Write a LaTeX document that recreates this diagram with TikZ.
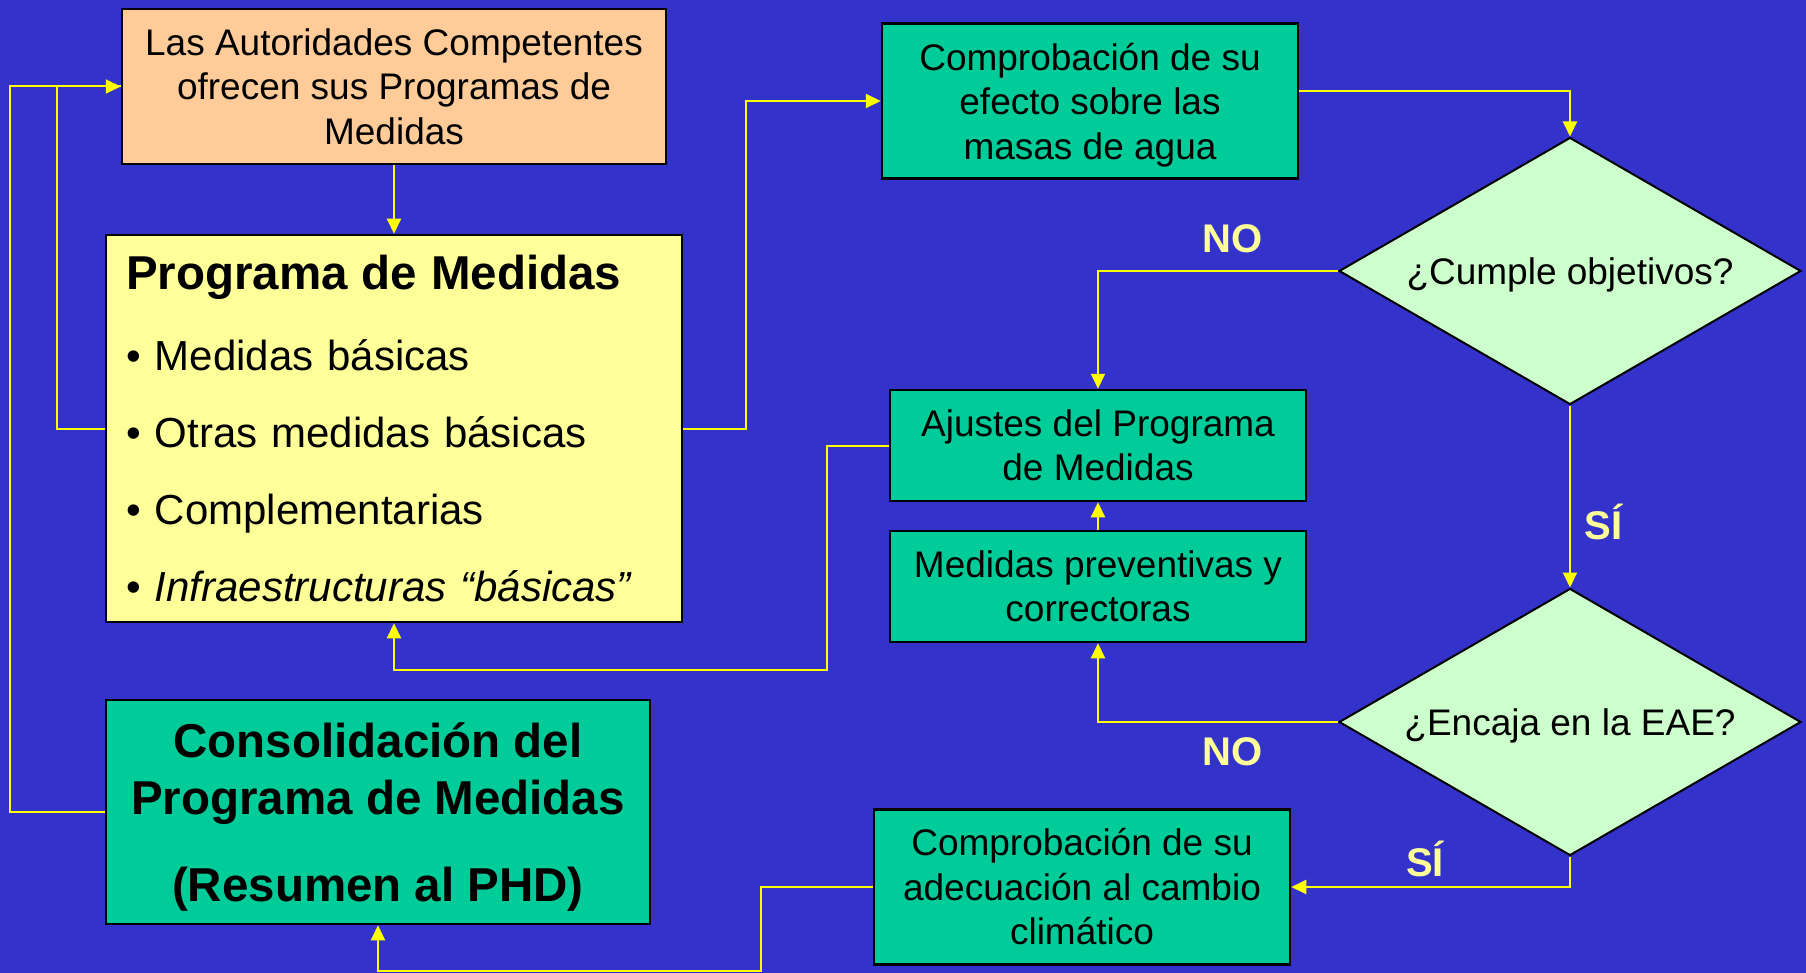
\documentclass[tikz,border=0pt]{standalone}
\usepackage{fontspec}
\setmainfont{Liberation Sans}
\usepackage{tikz}
\usetikzlibrary{arrows.meta, shapes.geometric}
\definecolor{bgblue}{HTML}{3333CC}
\definecolor{offerorange}{HTML}{FFCC99}
\definecolor{programyellow}{HTML}{FFFF99}
\definecolor{stepgreen}{HTML}{00CC99}
\definecolor{questiongreen}{HTML}{CCFFCC}
\definecolor{linkyellow}{HTML}{FFFF00}
\definecolor{answeryellow}{HTML}{FFFF99}
\tikzset{%
  >={Triangle[width=14pt,length=15pt]},
  % Specifications for style of nodes:
          base/.style = {rectangle, draw=black, line width=2.5pt,
                         text=black, align=center, inner sep=0pt,
                         font=\fontsize{37}{44.5}\selectfont},
     authority/.style = {base, fill=offerorange,
                         minimum width=544pt, minimum height=155pt},
     programme/.style = {base, fill=programyellow, align=left,
                         text width=536pt, inner xsep=20pt,
                         minimum height=387pt,
                         font=\fontsize{42}{77}\selectfont},
       summary/.style = {base, fill=stepgreen, minimum width=544pt,
                         minimum height=224pt, text depth=0pt,
                         font=\fontsize{47.5}{57}\selectfont\bfseries},
     checkStep/.style = {base, fill=stepgreen,
                         minimum width=416pt, minimum height=155pt},
    adjustStep/.style = {base, fill=stepgreen,
                         minimum width=416pt, minimum height=111pt},
      decision/.style = {diamond, draw=black, line width=2pt,
                         fill=questiongreen, aspect=1.72, inner sep=0pt,
                         minimum width=462pt, minimum height=267pt,
                         text depth=0pt,
                         font=\fontsize{37}{44.5}\selectfont},
  % Specifications for style of lines and answers:
          link/.style = {draw=linkyellow, line width=2pt},
        answer/.style = {text=answeryellow,
                         font=\fontsize{40}{48}\selectfont\bfseries},
}

\begin{document}
\begin{tikzpicture}[x=1pt, y=-1pt]
  \useasboundingbox (0,0) rectangle (1806,973);
  \fill[bgblue] (0,0) rectangle (1806,973);
  % Specification of nodes (position, etc.)
  \node (offers)       [authority]  at (394,86.5)
        {Las Autoridades Competentes\\ofrecen sus Programas de\\Medidas};
  \node (programme)    [programme]  at (394,428.5)
        {{\fontsize{47.5}{50}\selectfont\bfseries Programa de Medidas}\\[4pt]
         • Medidas básicas\\
         • Otras medidas básicas\\
         • Complementarias\\
         • \textit{Infraestructuras “básicas”}};
  \node (consolidation) [summary]   at (378,812)
        {Consolidación del\\Programa de Medidas\\[30pt](Resumen al PHD)};
  \node (effectCheck)  [checkStep, text depth=0pt] at (1090,101)
        {Comprobación de su\\efecto sobre las\\masas de agua};
  \node (meetsGoals)   [decision]   at (1570,271) {¿Cumple objetivos?};
  \node (adjustments)  [adjustStep] at (1098,445.5)
        {Ajustes del Programa\\de Medidas};
  \node (preventive)   [adjustStep] at (1098,586.5)
        {Medidas preventivas y\\correctoras};
  \node (fitsEAE)      [decision]   at (1570,722) {¿Encaja en la EAE?};
  \node (climateCheck) [checkStep]  at (1082,887)
        {Comprobación de su\\adecuación al cambio\\climático};
  % Specification of lines between nodes specified above
  % with aditional nodes for the answers
  \draw[link, ->]           (offers) -- (programme);
  \draw[link]  (consolidation.west) -- ++(-95,0) |- (offers.west);
  \draw[link, ->]  (programme.west) -- ++(-48,0) |- (offers.west);
  \draw[link, ->]  (programme.east) -- ++(63,0) |- (effectCheck.west);
  \draw[link, ->] ([yshift=10pt]effectCheck.east) -| (meetsGoals.north);
  \draw[link, ->] (meetsGoals.west) -| node[answer, pos=0.22, above=14pt]
                                       {NO} (adjustments.north);
  \draw[link, ->] (meetsGoals.south) -- node[answer, pos=0.64, right=10pt]
                                       {SÍ} (fitsEAE.north);
  \draw[link, ->]    (fitsEAE.west) -| node[answer, pos=0.22, below=11pt]
                                       {NO} (preventive.south);
  \draw[link, ->]       (preventive) -- (adjustments);
  \draw[link, ->] (adjustments.west) -- ++(-62,0) -- ++(0,224)
                                       -| (programme.south);
  \draw[link, ->]   (fitsEAE.south) |- node[answer, pos=0.76, above=6pt]
                                       {SÍ} (climateCheck.east);
  \draw[link, ->] (climateCheck.west) -- ++(-112,0) -- ++(0,84)
                                       -| (consolidation.south);
\end{tikzpicture}
\end{document}
